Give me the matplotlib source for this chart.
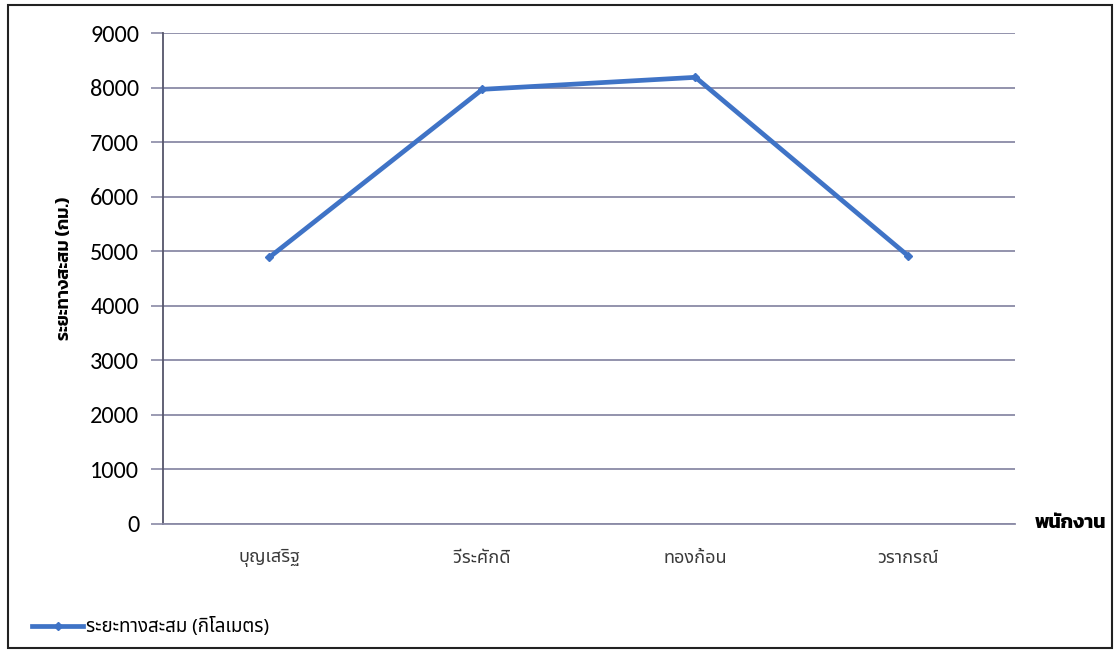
import matplotlib
matplotlib.use('Agg')
import matplotlib.pyplot as plt
from matplotlib import font_manager as fm
from matplotlib.patches import Rectangle

# data
employees = ['บุญเสริฐ', 'วีระศักดิ์', 'ทองก้อน', 'วรากรณ์']
distance_km = [4890, 7970, 8190, 4910]
y_ticks = [0, 1000, 2000, 3000, 4000, 5000, 6000, 7000, 8000, 9000]

series_label = 'ระยะทางสะสม (กิโลเมตร)'
y_label = 'ระยะทางสะสม (กม.)'
x_label = 'พนักงาน'

thai = ['Noto Sans Thai', 'DejaVu Sans']
# pick a bold thai face that really exists
bold_ok = any(f.name == 'Noto Sans Thai' and f.weight in (600, 700, 'bold', 'semibold')
              for f in fm.fontManager.ttflist)
thai_bold = thai if bold_ok else ['Kanit', 'DejaVu Sans']
nums = ['Carlito', 'Open Sans', 'DejaVu Sans']
blue = '#3f73c6'
grid_c = '#8a8aa6'

fig = plt.figure(figsize=(11.16, 6.5), dpi=100)
ax = fig.add_axes([0.146, 0.194, 0.7635, 0.755])

x = list(range(len(employees)))
ax.plot(x, distance_km, color=blue, lw=3.4, marker='D', ms=4,
        solid_joinstyle='miter', label=series_label)

ax.set_xlim(-0.5, len(employees) - 0.5)
ax.set_ylim(0, 9000)
ax.set_yticks(y_ticks)
ax.set_yticklabels([str(v) for v in y_ticks], family=nums, fontsize=17.5)
ax.set_xticks(x)
ax.set_xticklabels(employees, family=thai, fontsize=13, color='#3a3a3a')
ax.tick_params(axis='x', length=0, pad=18)
ax.tick_params(axis='y', length=9, width=1.2, color=grid_c, pad=8, direction='out')

ax.yaxis.grid(True, color=grid_c, lw=1.3)
ax.set_axisbelow(True)
for s in ['top', 'right']:
    ax.spines[s].set_visible(False)
ax.spines['left'].set_color('#55556a')
ax.spines['left'].set_linewidth(1.3)
ax.spines['bottom'].set_color(grid_c)
ax.spines['bottom'].set_linewidth(1.3)

ax.set_ylabel(y_label, family=thai_bold, fontsize=13, fontweight='semibold')
ax.yaxis.set_label_coords(-0.105, 0.52)
fig.text(0.927, 0.194, x_label, family=thai_bold, fontsize=14, fontweight='bold',
         ha='left', va='center')

fig.legend(loc='lower left', bbox_to_anchor=(0.014, -0.005), frameon=False,
           prop={'family': thai, 'size': 13.5}, handlelength=2.7, handletextpad=0.15)

# outer frame of the scanned chart
fig.patches.append(Rectangle((0.007, 0.003), 0.989, 0.99, transform=fig.transFigure,
                             fill=False, edgecolor='#222222', lw=1.5))

fig.savefig('out.png', dpi=100)
